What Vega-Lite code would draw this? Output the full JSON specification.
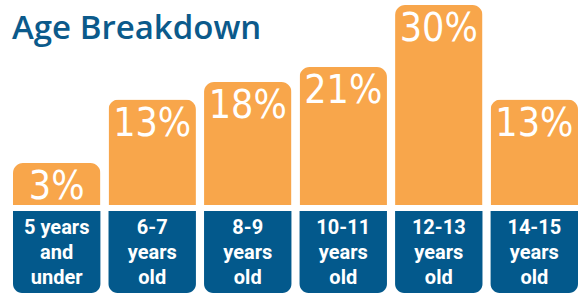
{
  "$schema": "https://vega.github.io/schema/vega-lite/v6.json",
  "padding": 0,
  "autosize": {"type": "pad"},
  "spacing": 6,
  "bounds": "flush",
  "background": "white",
  "config": {"view": {"stroke": null}},
  "data": {
    "values": [
      {"group": "5 years and under", "label": ["5 years", "and", "under"], "pct": 3, "pct_label": "3%"},
      {"group": "6-7 years old", "label": ["6-7", "years", "old"], "pct": 13, "pct_label": "13%"},
      {"group": "8-9 years old", "label": ["8-9", "years", "old"], "pct": 18, "pct_label": "18%"},
      {"group": "10-11 years old", "label": ["10-11", "years", "old"], "pct": 21, "pct_label": "21%"},
      {"group": "12-13 years old", "label": ["12-13", "years", "old"], "pct": 30, "pct_label": "30%"},
      {"group": "14-15 years old", "label": ["14-15", "years", "old"], "pct": 13, "pct_label": "13%"}
    ]
  },
  "vconcat": [
    {
      "width": 578,
      "height": 205,
      "title": {
        "text": "Age Breakdown",
        "anchor": "start",
        "frame": "group",
        "orient": "top",
        "offset": -38,
        "dx": 12,
        "dy": 34,
        "baseline": "alphabetic",
        "font": "Open Sans",
        "fontSize": 33,
        "fontWeight": 600,
        "color": "#0b5a8b"
      },
      "encoding": {
        "x": {
          "field": "group",
          "type": "nominal",
          "sort": null,
          "axis": null,
          "scale": {"range": [13, 578], "paddingInner": 0.085, "paddingOuter": 0}
        },
        "y": {
          "field": "pct",
          "type": "quantitative",
          "axis": null,
          "scale": {"domain": [0, 3, 13, 18, 21, 30], "range": [205, 163, 99.5, 82, 67, 5], "nice": false, "zero": false}
        }
      },
      "layer": [
        {
          "mark": {"type": "bar", "color": "#f8a64b", "cornerRadiusTopLeft": 10, "cornerRadiusTopRight": 10}
        },
        {
          "mark": {
            "type": "text",
            "color": "white",
            "baseline": "top",
            "dy": 5,
            "font": "DejaVu Sans Condensed",
            "fontSize": 39
          },
          "encoding": {"text": {"field": "pct_label", "type": "nominal"}}
        }
      ]
    },
    {
      "width": 578,
      "height": 82,
      "encoding": {
        "x": {
          "field": "group",
          "type": "nominal",
          "sort": null,
          "axis": null,
          "scale": {"range": [13, 578], "paddingInner": 0.085, "paddingOuter": 0}
        }
      },
      "layer": [
        {
          "mark": {"type": "bar", "color": "#03598c", "cornerRadiusBottomLeft": 9, "cornerRadiusBottomRight": 9}
        },
        {
          "mark": {
            "type": "text",
            "color": "white",
            "baseline": "middle",
            "lineHeight": 25,
            "dy": -24,
            "font": "Roboto",
            "fontWeight": "bold",
            "fontSize": 20
          },
          "encoding": {"text": {"field": "label", "type": "nominal"}}
        }
      ]
    }
  ]
}
